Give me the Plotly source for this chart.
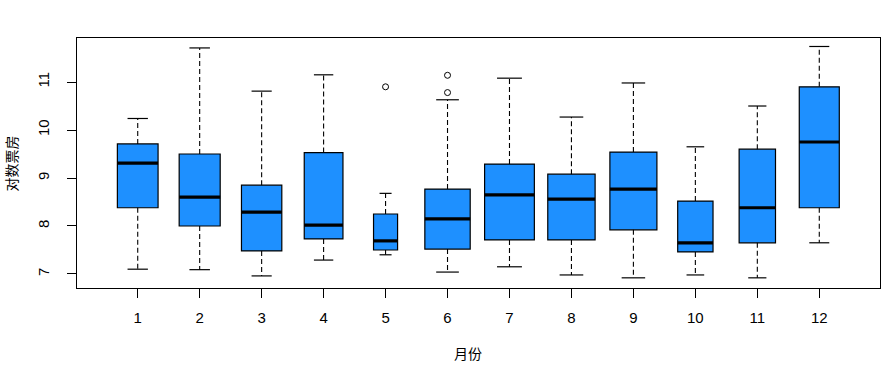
import plotly.graph_objects as go

# ---- data ----
months = [1, 2, 3, 4, 5, 6, 7, 8, 9, 10, 11, 12]
month_labels = ["1", "2", "3", "4", "5", "6", "7", "8", "9", "10", "11", "12"]
upper_whisker = [10.24, 11.71, 10.81, 11.15, 8.68, 10.63, 11.08, 10.27, 10.98, 9.65, 10.50, 11.74]
q3_values = [9.71, 9.50, 8.85, 9.53, 8.25, 8.77, 9.29, 9.08, 9.54, 8.52, 9.60, 10.90]
median_values = [9.31, 8.60, 8.29, 8.02, 7.69, 8.15, 8.65, 8.56, 8.77, 7.65, 8.38, 9.75]
q1_values = [8.38, 8.00, 7.48, 7.73, 7.50, 7.52, 7.71, 7.71, 7.92, 7.46, 7.65, 8.38]
lower_whisker = [7.10, 7.09, 6.96, 7.29, 7.40, 7.04, 7.15, 6.98, 6.92, 6.98, 6.92, 7.65]
outlier_month = [5, 6, 6]
outlier_value = [10.90, 11.14, 10.78]
y_ticks = [7, 8, 9, 10, 11]

# ---- style (box widths vary with group size, varwidth style) ----
box_widths = [0.657, 0.662, 0.651, 0.625, 0.388, 0.732, 0.803, 0.764, 0.759, 0.570, 0.587, 0.646]
FILL = "#1E90FF"
FONT = "Liberation Sans, Arial, sans-serif"
CJK = "Noto Sans CJK SC, sans-serif"

fig = go.Figure()

# boxes (whiskers drawn separately as dashed lines)
for m, lo, q1, med, q3, hi, w in zip(months, lower_whisker, q1_values, median_values,
                                     q3_values, upper_whisker, box_widths):
    fig.add_trace(go.Box(
        x=[m], q1=[q1], median=[med], q3=[q3], lowerfence=[q1], upperfence=[q3],
        width=w, whiskerwidth=0, fillcolor=FILL,
        line=dict(color="black", width=1.2), boxpoints=False,
        showlegend=False, hoverinfo="skip",
    ))

# dashed whiskers
wx, wy = [], []
for m, lo, q1, q3, hi in zip(months, lower_whisker, q1_values, q3_values, upper_whisker):
    wx += [m, m, None, m, m, None]
    wy += [q3, hi, None, q1, lo, None]
fig.add_trace(go.Scatter(x=wx, y=wy, mode="lines",
                         line=dict(color="black", width=1.1, dash="5px,3px"),
                         showlegend=False, hoverinfo="skip"))

# staples (caps), half the box width
cx, cy = [], []
for m, lo, hi, w in zip(months, lower_whisker, upper_whisker, box_widths):
    h = w / 4
    cx += [m - h, m + h, None, m - h, m + h, None]
    cy += [hi, hi, None, lo, lo, None]
fig.add_trace(go.Scatter(x=cx, y=cy, mode="lines",
                         line=dict(color="black", width=1.2),
                         showlegend=False, hoverinfo="skip"))

# thick medians
mx, my = [], []
for m, med, w in zip(months, median_values, box_widths):
    mx += [m - w / 2, m + w / 2, None]
    my += [med, med, None]
fig.add_trace(go.Scatter(x=mx, y=my, mode="lines",
                         line=dict(color="black", width=3.2),
                         showlegend=False, hoverinfo="skip"))

# outliers
fig.add_trace(go.Scatter(x=outlier_month, y=outlier_value, mode="markers",
                         marker=dict(symbol="circle-open", size=6,
                                     color="black", line=dict(width=1)),
                         showlegend=False, hoverinfo="skip"))

fig.update_layout(
    width=894, height=372,
    margin=dict(l=77, r=14, t=38, b=84),
    paper_bgcolor="white", plot_bgcolor="white",
    font=dict(family=FONT, size=15, color="black"),
    xaxis=dict(range=[0.02, 12.98], tickmode="array", tickvals=months,
               ticktext=month_labels, ticks="outside", ticklen=9,
               tickcolor="black", tickwidth=1, showline=True, mirror=True,
               linecolor="black", linewidth=1, showgrid=False, zeroline=False,
               ticklabelstandoff=7, tickfont=dict(family=FONT, size=15)),
    yaxis=dict(range=[6.708, 11.917], tickmode="array", tickvals=y_ticks,
               ticks="outside", ticklen=9, tickcolor="black", tickwidth=1,
               showline=True, mirror=True, linecolor="black", linewidth=1,
               showgrid=False, zeroline=False, tickangle=-90,
               ticklabelstandoff=12, tickfont=dict(family=FONT, size=15)),
    annotations=[
        dict(text="对数票房", xref="paper", yref="paper", x=-0.0816, y=0.5,
             xanchor="center", yanchor="middle", textangle=-90, showarrow=False,
             font=dict(family=CJK, size=14, color="black")),
        dict(text="月份", xref="paper", yref="paper", x=0.487, y=-0.26,
             xanchor="center", yanchor="middle", showarrow=False,
             font=dict(family=CJK, size=14, color="black")),
    ],
)

# remove the browser's default 8px body margin so the figure fills the window
fig.write_html("out.html",
               config={"displayModeBar": False, "staticPlot": True},
               post_script="document.body.style.margin='0';document.body.style.padding='0';")
